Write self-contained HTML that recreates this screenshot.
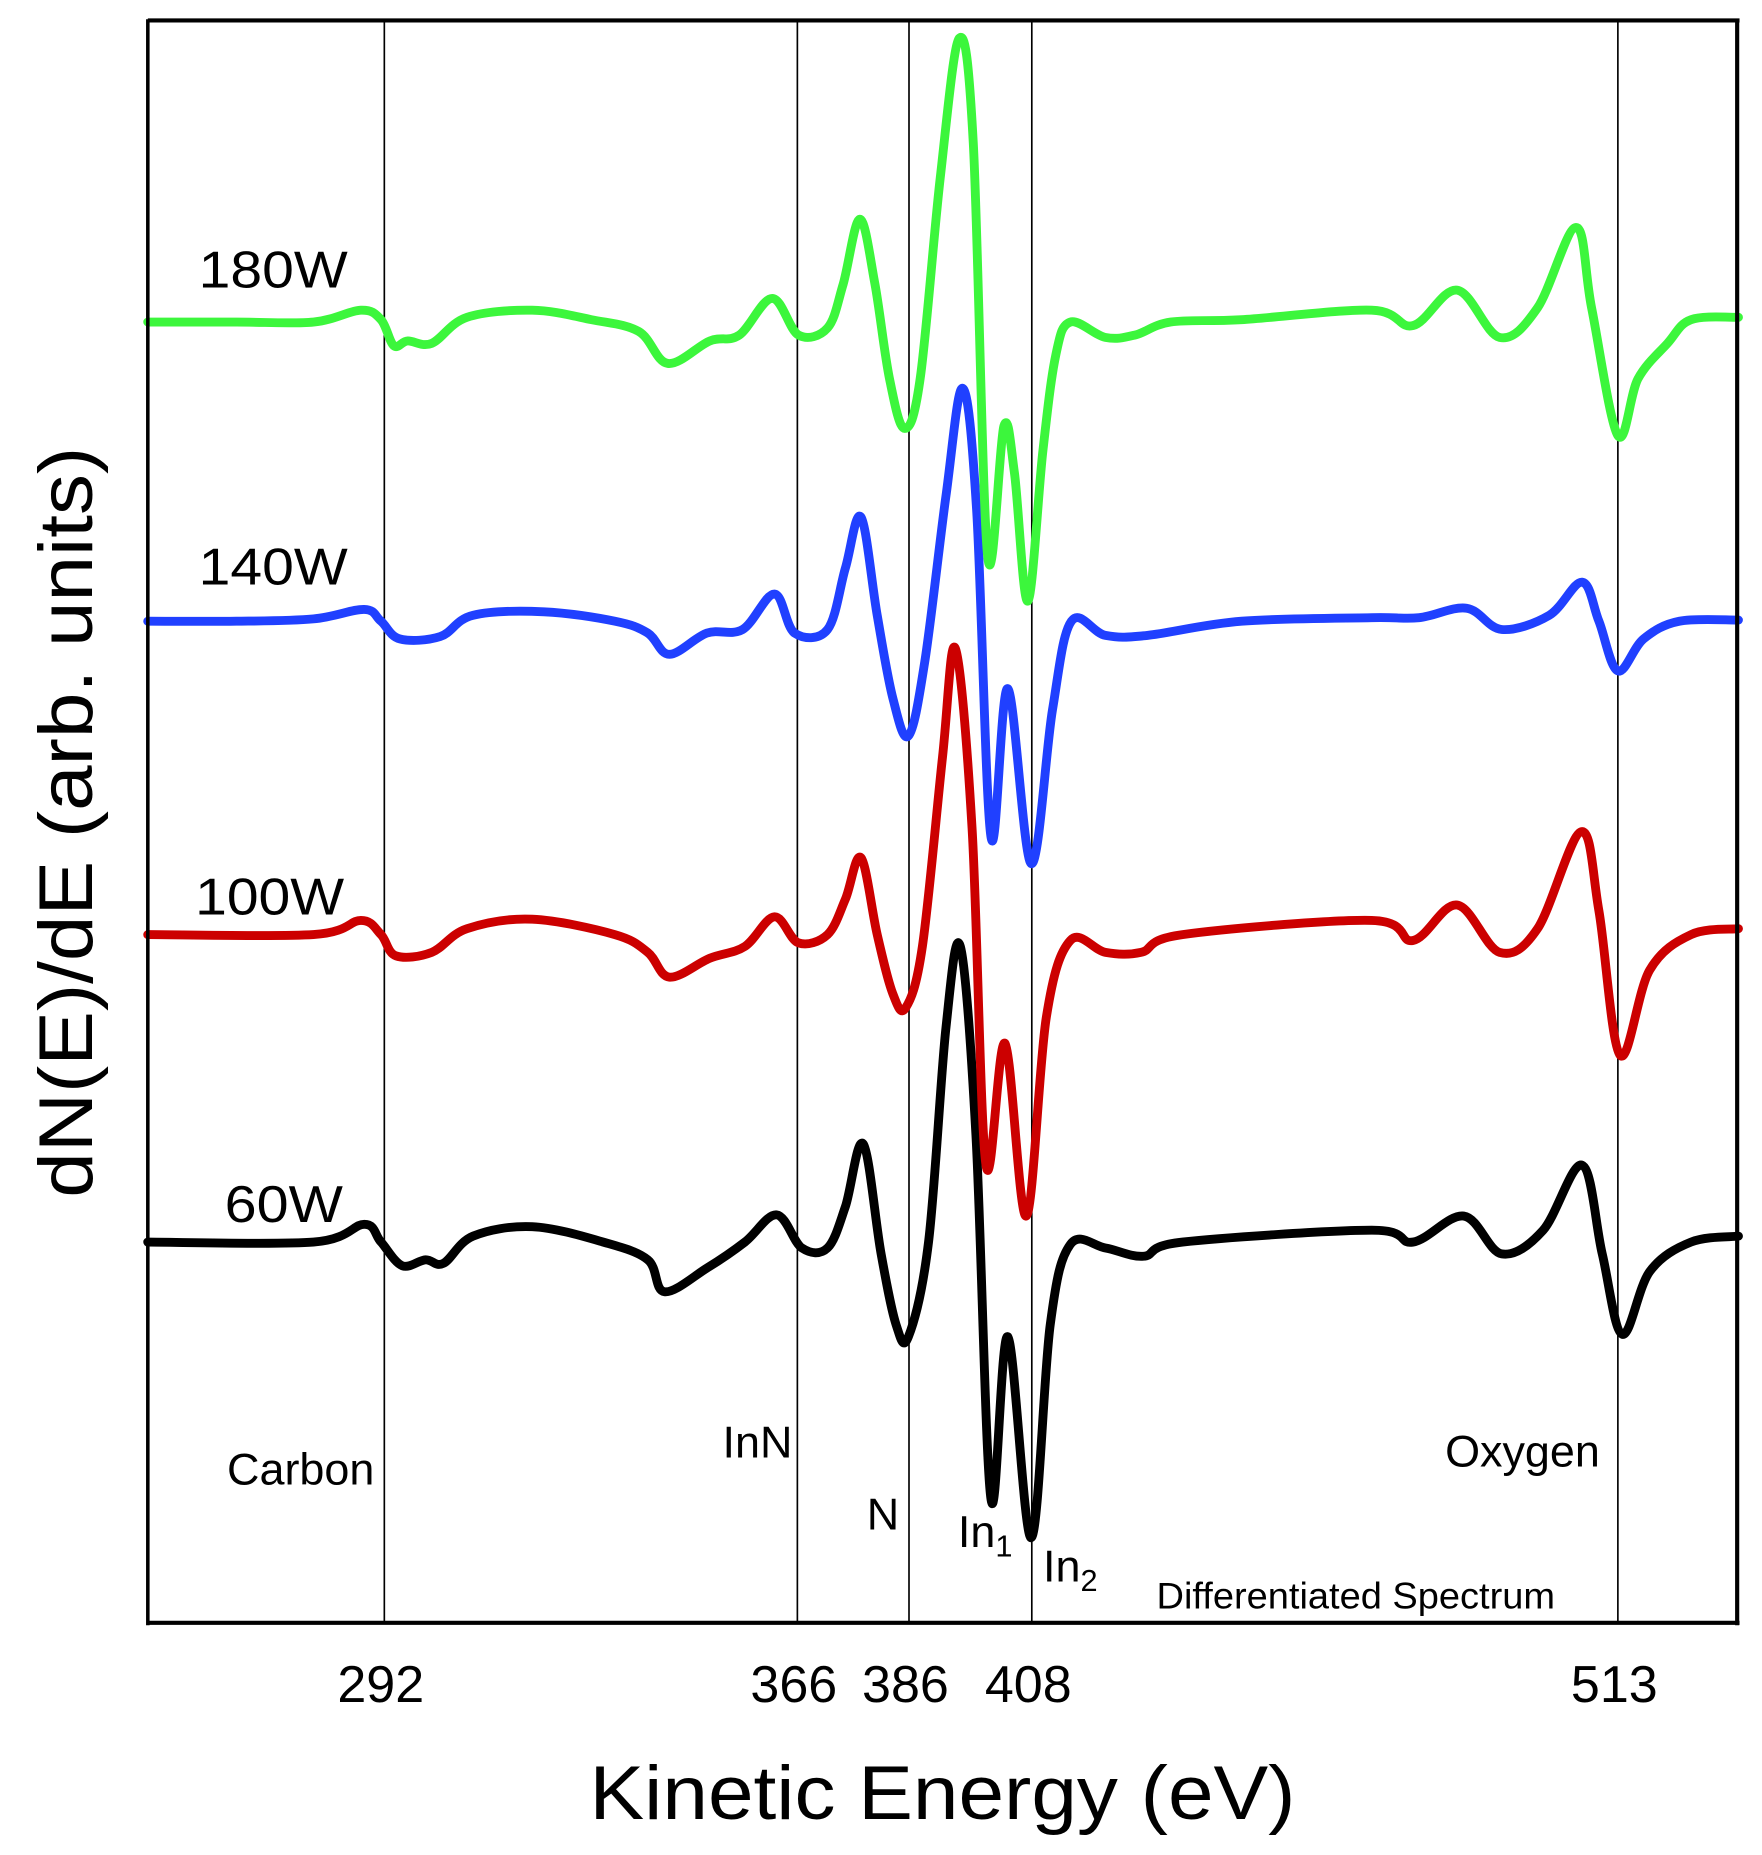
<!DOCTYPE html>
<html><head><meta charset="utf-8"><style>
html,body{margin:0;padding:0;background:#fff;}
svg{display:block;}
text{font-family:"Liberation Sans",sans-serif;fill:#000;}
</style></head><body>
<svg id="chart" width="1762" height="1855" viewBox="0 0 1490 1568" xmlns="http://www.w3.org/2000/svg">
<g id="grid"></g>
<g id="series"></g>
<g id="frame">
  <line x1="125" y1="17" x2="1471" y2="17" stroke="#000" stroke-width="3.5"/>
  <line x1="125" y1="1372" x2="1471" y2="1372" stroke="#000" stroke-width="3.5"/>
  <line x1="125" y1="16" x2="125" y2="1374" stroke="#000" stroke-width="3"/>
  <line x1="1469" y1="16" x2="1469" y2="1374" stroke="#000" stroke-width="3.5"/>
</g>
<g id="ticks"></g>
<text x="797" y="1538" font-size="64" text-anchor="middle" textLength="597" lengthAdjust="spacingAndGlyphs">Kinetic Energy (eV)</text>
<text transform="translate(78,695) rotate(-90)" font-size="64" text-anchor="middle" textLength="635" lengthAdjust="spacingAndGlyphs">dN(E)/dE (arb. units)</text>
<text x="168" y="243" font-size="44" textLength="126" lengthAdjust="spacingAndGlyphs">180W</text>
<text x="168" y="494" font-size="44" textLength="126" lengthAdjust="spacingAndGlyphs">140W</text>
<text x="165" y="773" font-size="44" textLength="126" lengthAdjust="spacingAndGlyphs">100W</text>
<text x="190" y="1033" font-size="44" textLength="100" lengthAdjust="spacingAndGlyphs">60W</text>
<text x="192" y="1255" font-size="38">Carbon</text>
<text x="611" y="1232" font-size="38">InN</text>
<text x="733" y="1293" font-size="38">N</text>
<text x="810" y="1308" font-size="38">In<tspan font-size="26" dy="8">1</tspan></text>
<text x="882" y="1337" font-size="38">In<tspan font-size="26" dy="8">2</tspan></text>
<text x="1222" y="1240" font-size="38">Oxygen</text>
<text x="978" y="1360" font-size="31" textLength="337" lengthAdjust="spacingAndGlyphs">Differentiated Spectrum</text>
</svg>
<script>
const peakLines = [292, 366, 386, 408, 513];
const tickLabels = ["292", "366", "386", "408", "513"];
const seriesNames = ["180W", "140W", "100W", "60W"];
const seriesColors = ["#3cf63c", "#2040ff", "#cc0000", "#000000"];
const seriesOffsets = [778, 525, 260, 0];

const greenE = [249.6,265.5,279.3,287.8,291.4,293.7,296.2,300.5,306.8,318.5,329.1,337.6,342.8,350.3,355.6,361.5,366.2,371.4,374.2,377.2,379.9,382.5,385.2,388.0,391.6,395.0,397.5,400.1,403.0,404.9,407.3,410.0,412.3,414.9,421.2,426.5,432.9,445.6,468.9,476.3,484.2,491.8,498.6,505.5,508.3,513.0,516.6,521.9,526.1,534.6];
const greenV = [0,0,0,10,2,-20,-16,-18,4,10,2,-8,-35,-16,-11,20,-11,-5,32,87,32,-48,-90,-48,122,240,152,-198,-88,-128,-236,-108,-28,0,-13,-11,0,2,10,-3,27,-13,12,80,12,-96,-48,-18,2,4];

const blueE = [249.6,265.5,279.3,288.4,291.4,294.8,302.0,307.9,320.6,333.3,339.2,343.1,349.8,356.2,361.9,365.5,371.4,374.6,377.4,380.3,383.1,385.9,388.8,392.6,395.6,398.1,400.7,403.7,407.9,411.7,415.1,421.2,428.7,445.6,468.9,477.4,485.9,492.2,500.7,506.6,509.6,513.0,517.6,524.0,534.6];
const blueV = [0,0,2,10,0,-15,-13,5,8,0,-10,-28,-10,-7,23,-10,-7,45,88,5,-65,-97,-35,105,197,95,-183,-57,-205,-75,0,-12,-12,0,3,3,11,-7,5,33,0,-42,-15,0,1];

const redE = [249.6,279.3,287.8,291.4,294.1,300.5,306.8,318.5,333.3,339.2,343.1,350.3,356.6,361.9,366.2,371.4,374.6,377.4,380.3,383.1,385.4,388.4,392.0,394.3,397.3,399.8,403.2,407.0,410.6,414.9,421.2,427.6,435.0,468.9,476.3,484.2,491.8,498.6,506.4,509.6,513.4,518.7,526.1,534.6];
const redV = [0,0,12,0,-18,-15,5,13,0,-15,-36,-20,-10,15,-7,0,30,65,0,-50,-62,-10,150,242,90,-195,-92,-238,-70,-5,-15,-15,0,12,-5,25,-15,5,87,20,-102,-30,0,5];

const blackE = [249.6,279.3,288.4,291.4,295.2,299.4,302.6,307.9,318.5,331.2,339.2,342.2,349.8,356.6,362.3,366.8,371.4,374.6,377.8,381.0,383.7,385.9,389.5,392.6,395.2,398.0,400.7,403.7,407.9,411.3,414.9,421.2,428.0,435.0,468.9,476.3,485.4,492.2,499.6,506.6,510.2,513.8,518.7,526.1,534.6];
const blackV = [0,0,15,0,-20,-15,-18,5,13,0,-15,-42,-22,0,23,-5,-5,30,83,-10,-70,-80,0,180,250,90,-218,-80,-250,-70,-2,-5,-12,0,10,0,22,-10,10,65,-10,-78,-25,0,5];

const allE = [greenE, blueE, redE, blackE];
const allV = [greenV, blueV, redV, blackV];

const X0 = 325, E0 = 292, PX_PER_EV = 4.72;
function xScale(e){ return X0 + (e - E0) * PX_PER_EV; }
function yScale(v){ return 1050 - v; }

const NS = "http://www.w3.org/2000/svg";
const grid = document.getElementById('grid');
const ticks = document.getElementById('ticks');
peakLines.forEach((e, i) => {
  const l = document.createElementNS(NS, 'line');
  
  
  const x = xScale(e);
  l.setAttribute('x1', x); l.setAttribute('x2', x);
  l.setAttribute('y1', 17); l.setAttribute('y2', 1372);
  l.setAttribute('stroke', '#000'); l.setAttribute('stroke-width', '1.4');
  grid.appendChild(l);
  const t = document.createElementNS(NS, 'text');
  
  
  t.setAttribute('x', x - 3); t.setAttribute('y', 1439);
  t.setAttribute('font-size', '44'); t.setAttribute('text-anchor', 'middle');
  t.textContent = tickLabels[i];
  ticks.appendChild(t);
});

function catmull(pts){
  let d = 'M' + pts[0][0].toFixed(1) + ',' + pts[0][1].toFixed(1);
  for (let i = 0; i < pts.length - 1; i++){
    const p0 = pts[Math.max(0, i-1)], p1 = pts[i], p2 = pts[i+1], p3 = pts[Math.min(pts.length-1, i+2)];
    const t = 0.17;
    const c1x = p1[0] + (p2[0]-p0[0])*t, c1y = p1[1] + (p2[1]-p0[1])*t;
    const c2x = p2[0] - (p3[0]-p1[0])*t, c2y = p2[1] - (p3[1]-p1[1])*t;
    d += 'C' + c1x.toFixed(1) + ',' + c1y.toFixed(1) + ' ' + c2x.toFixed(1) + ',' + c2y.toFixed(1) + ' ' + p2[0].toFixed(1) + ',' + p2[1].toFixed(1);
  }
  return d;
}

const sg = document.getElementById('series');
for (let s = 3; s >= 0; s--){
  const pts = allE[s].map((e, i) => [xScale(e), yScale(allV[s][i] + seriesOffsets[s])]);
  const p = document.createElementNS(NS, 'path');
  
  
  p.setAttribute('d', catmull(pts));
  p.setAttribute('fill', 'none');
  p.setAttribute('stroke', seriesColors[s]);
  p.setAttribute('stroke-width', '7.5');
  p.setAttribute('stroke-linejoin', 'round');
  p.setAttribute('stroke-linecap', 'round');
  sg.appendChild(p);
}
</script>
</body></html>
